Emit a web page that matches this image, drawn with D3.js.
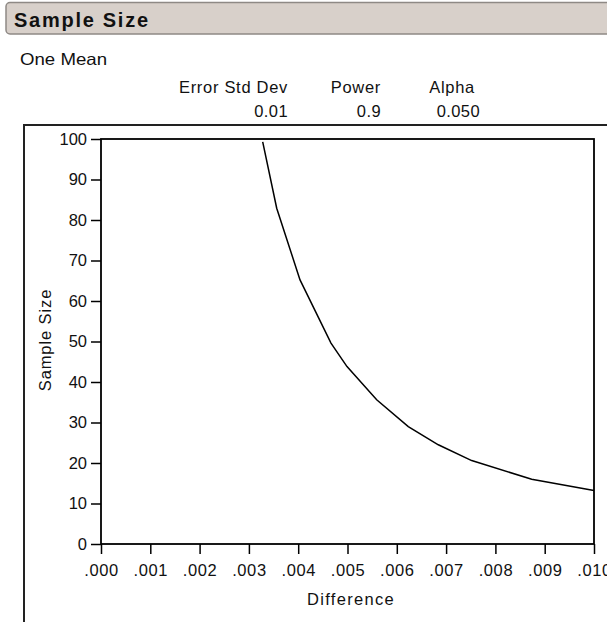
<!DOCTYPE html>
<html>
<head>
<meta charset="utf-8">
<script src="https://cdn.jsdelivr.net/npm/d3@7/dist/d3.min.js"></script>
<style>
  html, body { margin: 0; padding: 0; background: #fff; overflow: hidden; }
  svg { display: block; font-family: "Liberation Sans", Arial, sans-serif; }
</style>
</head>
<body>
<svg id="chart" width="607" height="622"></svg>
<script>
// ---- data ----
const differences = [0.00328, 0.003564, 0.004037, 0.004665, 0.00499, 0.005592, 0.006233, 0.006842, 0.007519, 0.008736, 0.0100];
const sampleSizes = [99.3, 82.9, 65.2, 49.6, 43.8, 35.6, 29.0, 24.5, 20.6, 16.0, 13.2];
const xTickValues = [0, 0.001, 0.002, 0.003, 0.004, 0.005, 0.006, 0.007, 0.008, 0.009, 0.010];
const xTickLabels = [".000", ".001", ".002", ".003", ".004", ".005", ".006", ".007", ".008", ".009", ".010"];
const yTickValues = [0, 10, 20, 30, 40, 50, 60, 70, 80, 90, 100];
const yTickLabels = ["0", "10", "20", "30", "40", "50", "60", "70", "80", "90", "100"];
const paramNames = ["Error Std Dev", "Power", "Alpha"];
const paramValues = ["0.01", "0.9", "0.050"];

const svg = d3.select("#chart");

// ---- header bar ----
svg.append("rect")
  .attr("x", 6).attr("y", 2.5).attr("width", 620).attr("height", 31.5)
  .attr("rx", 4).attr("ry", 4)
  .attr("fill", "#d8d0ca").attr("stroke", "#8e8985").attr("stroke-width", 1.5);
svg.append("text")
  .attr("x", 14).attr("y", 27)
  .attr("font-size", 20).attr("font-weight", "bold").attr("fill", "#111")
  .attr("textLength", 134).attr("lengthAdjust", "spacing")
  .text("Sample Size");

svg.append("text")
  .attr("x", 20).attr("y", 65).attr("font-size", 16.5).attr("fill", "#111")
  .attr("textLength", 87).attr("lengthAdjust", "spacingAndGlyphs")
  .text("One Mean");

// ---- parameter table ----
const nameX = [288, 381, 475];
const valX = [288, 381, 480];
paramNames.forEach((n, i) => {
  svg.append("text").attr("x", nameX[i]).attr("y", 92.5)
    .attr("text-anchor", "end").attr("font-size", 16.5).attr("fill", "#111")
    .attr("letter-spacing", 0.7)
    .text(n);
});
paramValues.forEach((v, i) => {
  svg.append("text").attr("x", valX[i]).attr("y", 116.5)
    .attr("text-anchor", "end").attr("font-size", 16.5).attr("fill", "#111")
    .attr("letter-spacing", 0.4)
    .text(v);
});

// ---- outer frame ----
svg.append("path")
  .attr("d", "M24,640 L24,125 L640,125")
  .attr("fill", "none").attr("stroke", "#222").attr("stroke-width", 2);

// ---- plot ----
const x = d3.scaleLinear().domain([0, 0.010]).range([101, 594]);
const y = d3.scaleLinear().domain([0, 100]).range([544, 139]);

const xAxis = svg.append("g")
  .attr("transform", `translate(0,${y(0)})`)
  .call(d3.axisBottom(x).tickValues(xTickValues)
    .tickFormat((d, i) => xTickLabels[i]).tickSize(10).tickPadding(10));
xAxis.select(".domain").remove();
xAxis.selectAll(".tick line").attr("stroke", "#000").attr("stroke-width", 1.5);
xAxis.selectAll(".tick text").attr("font-size", 16.5).attr("fill", "#111")
  .attr("font-family", "Liberation Sans, Arial, sans-serif").attr("letter-spacing", 0.6);

const yAxis = svg.append("g")
  .attr("transform", `translate(${x(0)},0)`)
  .call(d3.axisLeft(y).tickValues(yTickValues)
    .tickFormat((d, i) => yTickLabels[i]).tickSize(10).tickPadding(4));
yAxis.select(".domain").remove();
yAxis.selectAll(".tick line").attr("stroke", "#000").attr("stroke-width", 1.5);
yAxis.selectAll(".tick text").attr("font-size", 16.5).attr("fill", "#111")
  .attr("font-family", "Liberation Sans, Arial, sans-serif");

// plot frame
svg.append("rect")
  .attr("x", x(0)).attr("y", y(100))
  .attr("width", x(0.010) - x(0)).attr("height", y(0) - y(100))
  .attr("fill", "none").attr("stroke", "#000").attr("stroke-width", 1.8);

// curve
const line = d3.line().x((d, i) => x(differences[i])).y(d => y(d));
svg.append("path")
  .datum(sampleSizes)
  .attr("d", line)
  .attr("fill", "none").attr("stroke", "#000").attr("stroke-width", 1.5);

// axis titles
svg.append("text")
  .attr("x", 351).attr("y", 605)
  .attr("text-anchor", "middle").attr("font-size", 16.5).attr("fill", "#111")
  .attr("letter-spacing", 1.3)
  .text("Difference");

svg.append("text")
  .attr("transform", `translate(51,${340}) rotate(-90)`)
  .attr("text-anchor", "middle").attr("font-size", 16.5).attr("fill", "#111")
  .attr("letter-spacing", 0.9)
  .text("Sample Size");
</script>
</body>
</html>
